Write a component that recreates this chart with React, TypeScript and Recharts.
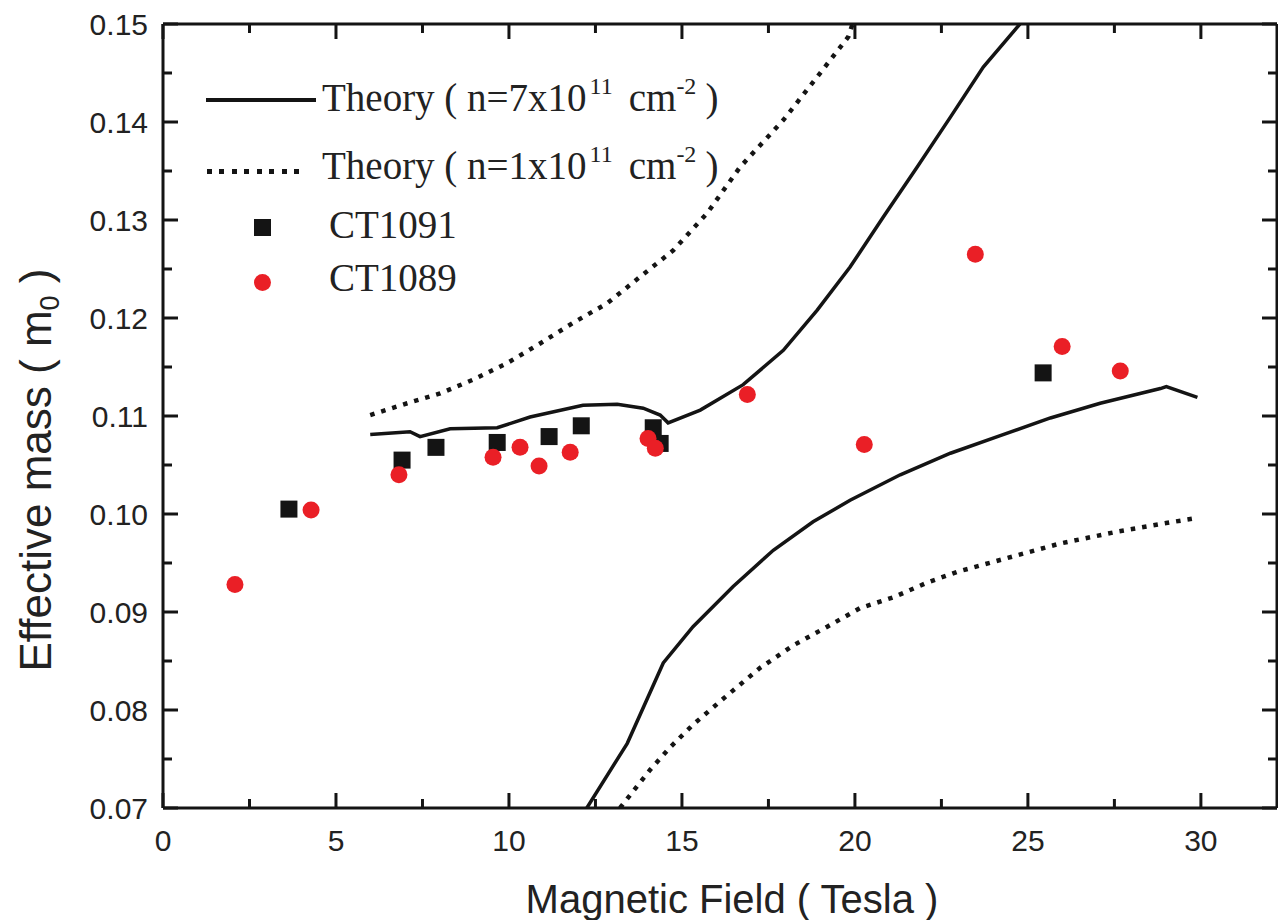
import React from "react";
import { ComposedChart, Line, Scatter, XAxis, YAxis } from "recharts";

// ── Style tokens ──
const BLACK = "#141414";
const RED = "#ea1f26";
const SANS = "'Liberation Sans', Arial, Helvetica, sans-serif";
const SERIF = "'Liberation Serif', 'Times New Roman', Times, serif";

// ── Axes ──
const X_DOMAIN: [number, number] = [0, 32.2];
const Y_DOMAIN: [number, number] = [0.07, 0.15];
const xTicks = [0, 2.5, 5, 7.5, 10, 12.5, 15, 17.5, 20, 22.5, 25, 27.5, 30];
const yTicks = [
  0.07, 0.075, 0.08, 0.085, 0.09, 0.095, 0.1, 0.105, 0.11, 0.115, 0.12, 0.125, 0.13, 0.135, 0.14, 0.145, 0.15,
];

// ── Theory, n = 7e11 cm^-2 (solid) ──
const theory7Upper: [number, number][] = [
  [5.99, 0.1081], [7.14, 0.1084], [7.43, 0.1079], [8.3, 0.1087], [9.66, 0.1088], [10.61, 0.1099],
  [12.14, 0.1111], [13.13, 0.1112], [13.88, 0.1108], [14.37, 0.1101], [14.6, 0.1093], [15.53, 0.1106],
  [16.77, 0.1132], [17.93, 0.1167], [18.91, 0.1208], [19.86, 0.1252], [20.82, 0.1303], [21.8, 0.1354],
  [22.76, 0.1405], [23.71, 0.1456], [24.77, 0.15],
];
const theory7Lower: [number, number][] = [
  [12.25, 0.07], [13.42, 0.0766], [14.46, 0.0848], [15.32, 0.0885], [16.48, 0.0926], [17.64, 0.0963],
  [18.79, 0.0992], [19.86, 0.1014], [21.31, 0.104], [22.76, 0.1062], [24.2, 0.108], [25.65, 0.1098],
  [27.09, 0.1113], [28.83, 0.1128], [29.0, 0.113], [29.9, 0.1119],
];

// ── Theory, n = 1e11 cm^-2 (dotted) ──
const theory1Upper: [number, number][] = [
  [5.99, 0.1101], [7.06, 0.1113], [8.01, 0.1123], [8.96, 0.1137], [9.95, 0.1154], [10.9, 0.1174],
  [11.85, 0.1195], [12.84, 0.1215], [13.79, 0.1242], [14.75, 0.1269], [15.73, 0.1307], [16.68, 0.1354],
  [17.93, 0.1402], [18.91, 0.1446], [19.81, 0.1487], [19.93, 0.15],
];
const theory1Lower: [number, number][] = [
  [13.21, 0.07], [14.08, 0.0739], [14.66, 0.0762], [15.32, 0.0785], [16.31, 0.0815], [17.26, 0.0843],
  [18.22, 0.0866], [19.2, 0.0885], [20.15, 0.0904], [21.11, 0.0915], [22.09, 0.093], [22.96, 0.0941],
  [24.29, 0.0954], [25.94, 0.097], [27.58, 0.0982], [29.2, 0.0992], [29.9, 0.0996],
];

// ── Measurements ──
const ct1091: [number, number][] = [
  [3.64, 0.1005], [6.91, 0.1055], [7.89, 0.1068], [9.66, 0.1073], [11.16, 0.1079], [12.09, 0.109],
  [14.17, 0.1088], [14.37, 0.1072], [25.44, 0.1144],
];
const ct1089: [number, number][] = [
  [2.08, 0.0928], [4.28, 0.1004], [6.82, 0.104], [9.54, 0.1058], [10.32, 0.1068], [10.87, 0.1049],
  [11.77, 0.1063], [14.02, 0.1077], [14.23, 0.1067], [16.89, 0.1122], [20.27, 0.1071], [23.48, 0.1265],
  [25.99, 0.1171], [27.67, 0.1146],
];

const toPts = (a: [number, number][]) => a.map(([x, y]) => ({ x, y }));

// ── Tick renderers (ticks point inward, minor ticks shorter) ──
const X_MARGIN = 40;
const Y_MARGIN = 14;
const TICK_W = 3;

function BottomTick({ x, y, payload }: any) {
  const v = payload.value;
  const major = v % 5 === 0;
  const axisY = y - X_MARGIN;
  return (
    <g>
      <line x1={x} x2={x} y1={axisY} y2={axisY - (major ? 15 : 9)} stroke={BLACK} strokeWidth={TICK_W} />
      {major && (
        <text x={x} y={axisY + 43} textAnchor="middle" fontFamily={SANS} fontSize={30} fill="#222">
          {v}
        </text>
      )}
    </g>
  );
}

function TopTick({ x, y, payload }: any) {
  const major = payload.value % 5 === 0;
  return <line x1={x} x2={x} y1={y} y2={y + (major ? 15 : 9)} stroke={BLACK} strokeWidth={TICK_W} />;
}

function LeftTick({ x, y, payload }: any) {
  const v = payload.value;
  const major = Math.round(v * 1000) % 10 === 0;
  const axisX = x + Y_MARGIN;
  return (
    <g>
      <line x1={axisX} x2={axisX + (major ? 15 : 9)} y1={y} y2={y} stroke={BLACK} strokeWidth={TICK_W} />
      {major && (
        <text x={axisX - 15} y={y + 11} textAnchor="end" fontFamily={SANS} fontSize={30} fill="#222">
          {v.toFixed(2)}
        </text>
      )}
    </g>
  );
}

function RightTick({ x, y, payload }: any) {
  const major = Math.round(payload.value * 1000) % 10 === 0;
  return <line x1={x} x2={x - (major ? 15 : 9)} y1={y} y2={y} stroke={BLACK} strokeWidth={TICK_W} />;
}

const Square = (p: any) => <rect x={p.cx - 8.5} y={p.cy - 8.5} width={17} height={17} fill={BLACK} />;
const Dot = (p: any) => <circle cx={p.cx} cy={p.cy} r={8.5} fill={RED} />;

// ── Titles and legend as plain HTML on top of the chart ──
const abs = (s: React.CSSProperties): React.CSSProperties => ({ position: "absolute", ...s });
const supStyle: React.CSSProperties = { fontSize: 24, position: "relative", top: -17 };
const legendText: React.CSSProperties = {
  fontFamily: SERIF,
  fontSize: 39,
  lineHeight: "39px",
  color: "#222",
  whiteSpace: "nowrap",
};

function TheoryLabel({ n }: { n: string }) {
  return (
    <>
      Theory ( n={n}x10
      <span style={{ ...supStyle, marginLeft: 3 }}>11</span>
      <span style={{ marginLeft: 16 }}>cm</span>
      <span style={supStyle}>-2</span>
      <span style={{ marginLeft: 9 }}>)</span>
    </>
  );
}

function Overlay() {
  return (
    <div style={abs({ left: 0, top: 0, width: 1278, height: 920, pointerEvents: "none" })}>
      <div
        style={abs({
          left: 332, top: 879, width: 800, textAlign: "center",
          fontFamily: SANS, fontSize: 40, lineHeight: "40px", color: "#222", whiteSpace: "nowrap",
        })}
      >
        Magnetic Field ( Tesla )
      </div>
      <div
        style={abs({
          left: 36 - 350, top: 470 - 22, width: 700, height: 44, textAlign: "center",
          fontFamily: SANS, fontSize: 44, lineHeight: "44px", color: "#222", whiteSpace: "nowrap",
          transform: "rotate(-90deg)",
        })}
      >
        Effective mass ( m<span style={{ fontSize: 27, position: "relative", top: 8 }}>0</span> )
      </div>

      <div style={abs({ left: 206, top: 98, width: 110, height: 3.5, background: BLACK })} />
      <div style={abs({ left: 322, top: 78, ...legendText })}>
        <TheoryLabel n="7" />
      </div>

      <div
        style={abs({
          left: 207, top: 168.5, width: 100, height: 5,
          background: `repeating-linear-gradient(to right, ${BLACK} 0 5px, transparent 5px 12.5px)`,
        })}
      />
      <div style={abs({ left: 322, top: 146, ...legendText })}>
        <TheoryLabel n="1" />
      </div>

      <div style={abs({ left: 254, top: 219, width: 17, height: 17, background: BLACK })} />
      <div style={abs({ left: 329, top: 205, ...legendText })}>CT1091</div>

      <div style={abs({ left: 253.5, top: 273.5, width: 17, height: 17, borderRadius: "50%", background: RED })} />
      <div style={abs({ left: 329, top: 258, ...legendText })}>CT1089</div>
    </div>
  );
}

// Bottom layer: the framed axes with inward ticks, plus the measured points.
function AxesLayer() {
  return (
    <ComposedChart width={1278} height={920} margin={{ top: 23, right: 0, bottom: 0, left: 0 }}>
      <XAxis type="number" dataKey="x" domain={X_DOMAIN} allowDataOverflow ticks={xTicks} interval={0}
        tickSize={0} tickMargin={X_MARGIN} tickLine={false} tick={<BottomTick />}
        axisLine={{ stroke: BLACK, strokeWidth: 3 }} height={112} />
      <XAxis xAxisId="top" orientation="top" type="number" dataKey="x" domain={X_DOMAIN} allowDataOverflow
        ticks={xTicks} interval={0} tickSize={0} tickMargin={0} tickLine={false} tick={<TopTick />}
        axisLine={{ stroke: BLACK, strokeWidth: 3 }} height={1} />
      <YAxis type="number" domain={Y_DOMAIN} allowDataOverflow ticks={yTicks} interval={0} tickSize={0}
        tickMargin={Y_MARGIN} tickLine={false} tick={<LeftTick />}
        axisLine={{ stroke: BLACK, strokeWidth: 3 }} width={163} />
      <YAxis yAxisId="right" orientation="right" type="number" domain={Y_DOMAIN} allowDataOverflow
        ticks={yTicks} interval={0} tickSize={0} tickMargin={0} tickLine={false} tick={<RightTick />}
        axisLine={{ stroke: BLACK, strokeWidth: 3 }} width={1} />
      <Scatter data={toPts(ct1091)} dataKey="y" shape={<Square />} isAnimationActive={false} />
      <Scatter data={toPts(ct1089)} dataKey="y" shape={<Dot />} isAnimationActive={false} />
    </ComposedChart>
  );
}

// Top layer: theory curves on hidden axes over the same plot area.
function CurvesLayer() {
  return (
    <ComposedChart width={1278} height={920} margin={{ top: 24, right: 1, bottom: 112, left: 163 }}>
      <XAxis type="number" dataKey="x" domain={X_DOMAIN} allowDataOverflow hide />
      <YAxis type="number" domain={Y_DOMAIN} allowDataOverflow hide />
      <Line data={toPts(theory7Upper)} dataKey="y" type="linear" stroke={BLACK} strokeWidth={3.5} dot={false} activeDot={false} isAnimationActive={false} />
      <Line data={toPts(theory7Lower)} dataKey="y" type="linear" stroke={BLACK} strokeWidth={3.5} dot={false} activeDot={false} isAnimationActive={false} />
      <Line data={toPts(theory1Upper)} dataKey="y" type="linear" stroke={BLACK} strokeWidth={4.5} strokeDasharray="4.5 7" dot={false} activeDot={false} isAnimationActive={false} />
      <Line data={toPts(theory1Lower)} dataKey="y" type="linear" stroke={BLACK} strokeWidth={4.5} strokeDasharray="4.5 7" dot={false} activeDot={false} isAnimationActive={false} />
    </ComposedChart>
  );
}

export default function App() {
  return (
    <div style={{ position: "absolute", left: 0, top: 0, width: 1278, height: 920, background: "#fff" }}>
      <div style={abs({ left: 0, top: 0 })}>
        <AxesLayer />
      </div>
      <div style={abs({ left: 0, top: 0, pointerEvents: "none" })}>
        <CurvesLayer />
      </div>
      <Overlay />
    </div>
  );
}
